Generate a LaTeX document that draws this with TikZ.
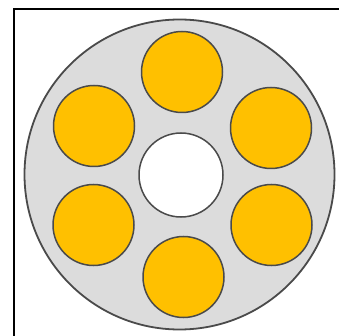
\documentclass[tikz,border=0pt]{standalone}
\definecolor{discgray}{HTML}{DCDCDC}
\definecolor{rimgray}{HTML}{4A4A4A}
\definecolor{holeorange}{HTML}{FFC000}
\begin{document}
\begin{tikzpicture}[x=1pt,y=-1pt,
  disc/.style={circle,draw=rimgray,line width=1.8pt,fill=discgray,inner sep=0pt,minimum size=310pt},
  hole/.style={circle,draw=rimgray,line width=1.5pt,fill=holeorange,inner sep=0pt,minimum size=81pt},
  hub/.style={circle,draw=rimgray,line width=1.5pt,fill=white,inner sep=0pt,minimum size=84pt}]
\useasboundingbox[fill=white] (0,0) rectangle (339,336);
\coordinate (tr) at (339,9);
\coordinate (tl) at (14,9);
\coordinate (bl) at (14,336);
\draw[line width=2pt,black] (tr) -- (tl) -- (bl);
\node[disc] (d) at (179.5,174.5) {};
\node[hub] (c) at (181,175) {};
\node[hole] (h1) at (182,72) {};
\node[hole] (h2) at (271,128) {};
\node[hole] (h3) at (271.5,225) {};
\node[hole] (h4) at (183.5,277) {};
\node[hole] (h5) at (93.5,225) {};
\node[hole] (h6) at (94,126) {};
\end{tikzpicture}
\end{document}
